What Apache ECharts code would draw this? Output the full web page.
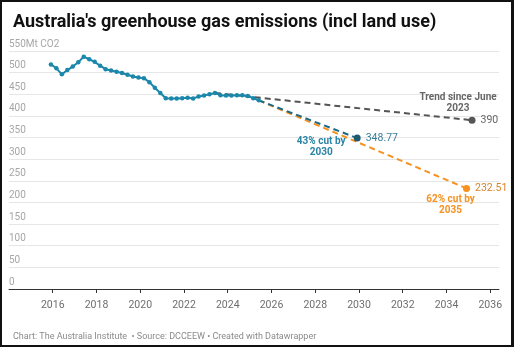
<!DOCTYPE html>
<html>
<head>
<meta charset="utf-8">
<script src="https://cdn.jsdelivr.net/npm/echarts@6/dist/echarts.min.js"></script>
<style>
  html, body { margin: 0; padding: 0; background: #fff; }
  #wrap { position: relative; width: 514px; height: 347px; }
  #chart { position: absolute; left: 0; top: 0; width: 514px; height: 347px; }
  #frame { position: absolute; left: 0; top: 0; width: 514px; height: 347px; box-sizing: border-box;
           border-style: solid; border-color: #111; border-width: 2px 3px 2px 2px; pointer-events: none; }
</style>
</head>
<body>
<div id="wrap">
  <div id="chart"></div>
  <div id="frame"></div>
</div>
<script>
// Quarterly emissions, Mt CO2-e (incl. land use), by quarter ending
const quarters = [
  '2015-12', '2016-03', '2016-06', '2016-09', '2016-12',
  '2017-03', '2017-06', '2017-09', '2017-12',
  '2018-03', '2018-06', '2018-09', '2018-12',
  '2019-03', '2019-06', '2019-09', '2019-12',
  '2020-03', '2020-06', '2020-09', '2020-12',
  '2021-03', '2021-06', '2021-09', '2021-12',
  '2022-03', '2022-06', '2022-09', '2022-12',
  '2023-03', '2023-06', '2023-09', '2023-12',
  '2024-03', '2024-06', '2024-09', '2024-12',
  '2025-03', '2025-06'
];
const emissions = [
  519, 510, 496, 506, 514,
  524, 537, 531, 525,
  516, 508, 505, 502,
  499, 495, 491, 489,
  487, 478, 465, 453,
  441, 440, 440, 441,
  442, 440, 445, 447,
  450, 453, 448, 447,
  447, 448, 448, 446,
  441, 436
];

// Trend since June 2023, projected out
const trendDates = ['2023-06', '2035-03'];
const trendValues = [453, 390];

// Targets: 43% cut by 2030, 62% cut by 2035
const target2030Dates = ['2025-06', '2029-12'];
const target2030Values = [436, 348.77];
const target2035Dates = ['2025-06', '2034-12'];
const target2035Values = [436, 232.51];

const yearTicks = [2016, 2018, 2020, 2022, 2024, 2026, 2028, 2030, 2032, 2034, 2036];

const unitLabel = 'Mt CO2';
const titleText = "Australia's greenhouse gas emissions (incl land use)";
const footerText = 'Chart: The Australia Institute  \u2022 Source: DCCEEW \u2022 Created with Datawrapper';

const TEAL = '#1b87aa';
const TEAL_DARK = '#1d6886';
const ORANGE = '#f7911f';
const GREY = '#555555';

function toYear(s) {
  const [y, m] = s.split('-').map(Number);
  return y + (m - 1) / 12;
}
function pairs(dates, values) {
  return dates.map((d, i) => [toYear(d), values[i]]);
}

const FONT = 'Roboto';

function projection(name, dates, values, color, dotColor, valueColor, note, noteColor, noteOffset, z) {
  const pts = pairs(dates, values);
  const last = pts[pts.length - 1];
  return {
    name: name,
    type: 'line',
    z: z,
    data: pts.map((p, i) => ({
      value: p,
      symbolSize: i === pts.length - 1 ? 7 : 0,
      itemStyle: { color: dotColor },
      label: {
        show: i === pts.length - 1,
        position: 'right',
        distance: 5,
        formatter: String(values[i]),
        color: valueColor,
        fontFamily: FONT,
        fontSize: 10.5
      }
    })),
    symbol: 'circle',
    showSymbol: true,
    lineStyle: { color: color, width: 2, type: [6, 4] },
    itemStyle: { color: dotColor },
    silent: true,
    animation: false,
    markPoint: {
      symbol: 'circle',
      symbolSize: 0,
      silent: true,
      data: [{
        coord: last,
        label: {
          show: true,
          position: 'inside',
          offset: noteOffset,
          formatter: note,
          color: noteColor,
          fontFamily: FONT,
          fontWeight: 'bold',
          fontSize: 10,
          lineHeight: 11,
          align: 'center'
        }
      }]
    }
  };
}

const chart = echarts.init(document.getElementById('chart'), null, { renderer: 'canvas' });

chart.setOption({
  animation: false,
  backgroundColor: '#fff',
  textStyle: { fontFamily: FONT },
  title: [
    {
      text: titleText,
      left: 8,
      top: 8,
      textStyle: { fontFamily: FONT, fontWeight: 'bold', fontSize: 18, color: '#111' }
    },
    {
      text: footerText,
      left: 8,
      top: 327,
      textStyle: { fontFamily: FONT, fontWeight: 'normal', fontSize: 9, color: '#8a8a8a' }
    }
  ],
  grid: { left: 9, right: 15, top: 51, bottom: 58, containLabel: false },
  xAxis: {
    type: 'value',
    min: 2014,
    max: 2036.4,
    splitLine: { show: false },
    axisLine: { show: true, lineStyle: { color: '#333', width: 1 } },
    axisTick: { show: true, customValues: yearTicks, length: 4, lineStyle: { color: '#333' } },
    axisLabel: {
      customValues: yearTicks,
      color: '#6e6e6e',
      fontFamily: FONT,
      fontSize: 10.5,
      margin: 11,
      formatter: v => String(v)
    }
  },
  yAxis: {
    type: 'value',
    min: 0,
    max: 550,
    interval: 50,
    axisLine: { show: false },
    axisTick: { show: false },
    splitLine: { show: true, lineStyle: { color: '#e6e6e6', width: 1 } },
    axisLabel: {
      inside: true,
      margin: 0,
      verticalAlign: 'bottom',
      padding: [0, 0, 2, 0],
      color: '#a6a6a6',
      fontFamily: FONT,
      fontSize: 10,
      formatter: v => (v === 550 ? v + unitLabel : String(v))
    }
  },
  series: [
    projection('Trend since June 2023', trendDates, trendValues, GREY, GREY, '#666',
      'Trend since June\n2023', '#666', [-14, -17], 1),
    projection('62% cut by 2035', target2035Dates, target2035Values, ORANGE, ORANGE, '#d9822b',
      '62% cut by\n2035', ORANGE, [-16, 17], 2),
    projection('43% cut by 2030', target2030Dates, target2030Values, TEAL_DARK, '#1d5a72', '#3a7f9a',
      '43% cut by\n2030', '#2a84a6', [-36, 9], 3),
    {
      name: 'Emissions',
      type: 'line',
      z: 4,
      data: pairs(quarters, emissions),
      symbol: 'circle',
      symbolSize: 4.5,
      showSymbol: true,
      lineStyle: { color: TEAL, width: 2 },
      itemStyle: { color: TEAL },
      silent: true
    }
  ]
});
</script>
</body>
</html>
